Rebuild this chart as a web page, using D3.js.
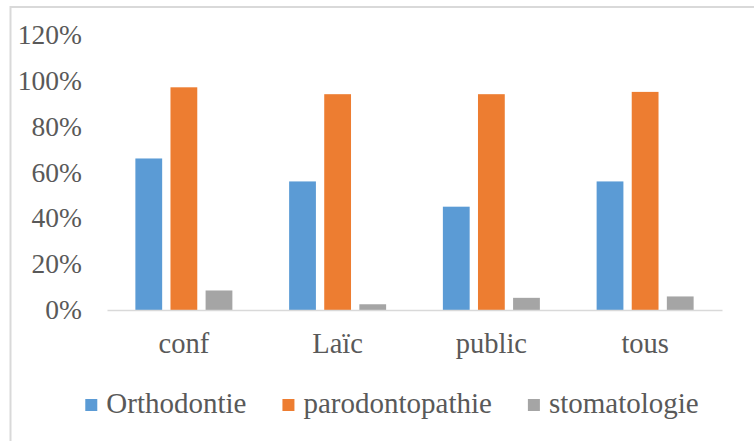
<!DOCTYPE html>
<html>
<head>
<meta charset="utf-8">
<script src="https://cdn.jsdelivr.net/npm/d3@7"></script>
<style>
html,body{margin:0;padding:0;background:#fff;}
svg{display:block;}
</style>
</head>
<body>
<svg id="chart" width="754" height="441"></svg>
<script>
const categories = ["conf", "Laïc", "public", "tous"];
const seriesNames = ["Orthodontie", "parodontopathie", "stomatologie"];
const orthodontie = [0.66, 0.56, 0.45, 0.56];
const parodontopathie = [0.97, 0.94, 0.94, 0.95];
const stomatologie = [0.085, 0.025, 0.053, 0.059];
const yTicks = [0, 0.2, 0.4, 0.6, 0.8, 1.0, 1.2];
const colors = ["#5B9BD5", "#ED7D31", "#A5A5A5"];
const FONT = "'Liberation Serif', 'Times New Roman', Times, serif";

const seriesValues = [orthodontie, parodontopathie, stomatologie];
const data = categories.map((c, i) => ({cat: c, vals: seriesNames.map((s, j) => ({s, v: seriesValues[j][i]}))}));

const svg = d3.select("#chart");

// frame
svg.append("rect").attr("x", 10.5).attr("y", 7).attr("width", 760).attr("height", 450)
  .attr("fill", "none").attr("stroke", "#d9d9d9").attr("stroke-width", 2);

const left = 107, right = 722, y0 = 310, yTop = 34.5;
const x0 = d3.scaleBand().domain(categories).range([left, right]).padding(0);
const y = d3.scaleLinear().domain([0, 1.2]).range([y0, yTop]);
const groupW = 97;
const x1 = d3.scaleBand().domain(seriesNames).range([0, groupW]).paddingInner(0.237).paddingOuter(0);

// y axis labels
const yAxis = d3.axisLeft(y).tickValues(yTicks).tickFormat(d3.format(".0%")).tickSize(0).tickPadding(0);
const yg = svg.append("g").attr("transform", "translate(82,0)").call(yAxis)
  .attr("font-family", FONT).attr("font-size", 27.5);
yg.select(".domain").remove();
yg.selectAll("text").attr("fill", "#595959").attr("font-family", FONT).attr("font-size", 27.5);

// bars
const groups = svg.append("g").selectAll("g").data(data).join("g")
  .attr("transform", d => `translate(${x0(d.cat) + (x0.bandwidth() - groupW) / 2},0)`);
groups.selectAll("rect").data(d => d.vals).join("rect")
  .attr("x", d => x1(d.s))
  .attr("width", x1.bandwidth())
  .attr("y", d => y(d.v))
  .attr("height", d => y0 - y(d.v))
  .attr("fill", (d, i) => colors[i]);

// x axis
const xAxis = d3.axisBottom(x0).tickSize(0).tickPadding(0);
const xg = svg.append("g").attr("transform", `translate(0,${y0})`).call(xAxis)
  .attr("font-family", FONT).attr("font-size", 28);
xg.select(".domain").attr("stroke", "#d9d9d9").attr("stroke-width", 1.5);
xg.selectAll("text").attr("dy", null).attr("y", 43).attr("font-size", 28.5)
  .attr("fill", "#595959").attr("font-family", FONT);

// legend
const legend = svg.append("g").attr("font-family", FONT);
const items = legend.selectAll("g").data(seriesNames).join("g");
items.append("rect").attr("width", 12).attr("height", 12).attr("y", 399).attr("fill", (d, i) => colors[i]);
items.append("text").text(d => d).attr("x", 21).attr("y", 412.5)
  .attr("font-size", 29).attr("font-family", FONT).attr("fill", "#595959");
let cx = 0;
const widths = [];
items.each(function () { widths.push(21 + this.querySelector("text").getComputedTextLength()); });
const gap = 36;
const total = d3.sum(widths) + gap * (widths.length - 1);
cx = 392 - total / 2;
items.attr("transform", (d, i) => {
  const t = `translate(${cx},0)`;
  cx += widths[i] + gap;
  return t;
});
</script>
</body>
</html>
